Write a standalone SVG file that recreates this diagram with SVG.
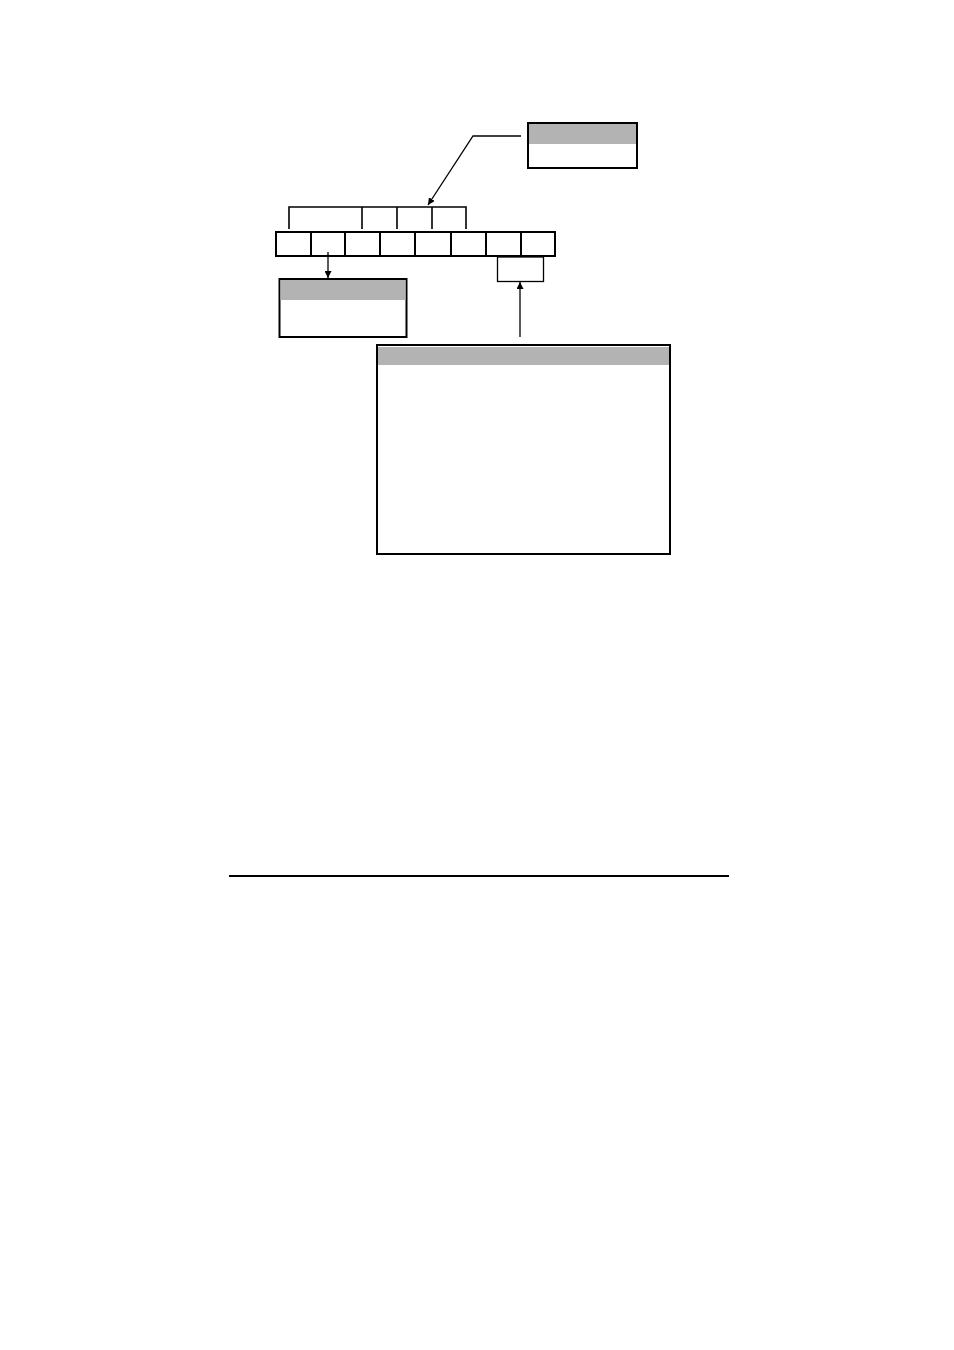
<svg xmlns="http://www.w3.org/2000/svg" width="954" height="1350" viewBox="0 0 954 1350">
<style>
.box{fill:#ffffff;stroke:#000;stroke-width:2}
.band{fill:#b3b3b3;stroke:none}
.cell{fill:#ffffff;stroke:#000;stroke-width:2}
.ln{fill:none;stroke:#000;stroke-width:1.3}
.br{fill:none;stroke:#000;stroke-width:1.6}
</style>
<defs>
<marker id="ah" viewBox="0 0 10 10" refX="10" refY="5" markerWidth="7" markerHeight="7" markerUnits="userSpaceOnUse" orient="auto">
<path d="M0,0 L10,5 L0,10 z" fill="#000"/>
</marker>
</defs>
<rect width="954" height="1350" fill="#fff"/>
<g id="topBox">
<rect class="box" x="528" y="123" width="109" height="45"/>
<rect class="band" x="529" y="124" width="107" height="20"/>
</g>
<g id="leftBox">
<rect class="box" x="279.5" y="279" width="127" height="58"/>
<rect class="band" x="280.5" y="280" width="125" height="20"/>
</g>
<g id="bigBox">
<rect class="box" x="377" y="345" width="293" height="209"/>
<rect class="band" x="378" y="347" width="291" height="18"/>
</g>
<g id="cells">
<rect class="cell" x="276" y="232" width="35" height="24"/>
<rect class="cell" x="311" y="232" width="34" height="24"/>
<rect class="cell" x="345" y="232" width="35" height="24"/>
<rect class="cell" x="380" y="232" width="35" height="24"/>
<rect class="cell" x="415" y="232" width="36" height="24"/>
<rect class="cell" x="451" y="232" width="35" height="24"/>
<rect class="cell" x="486" y="232" width="35" height="24"/>
<rect class="cell" x="521" y="232" width="34" height="24"/>
</g>
<g id="subCell">
<rect x="497.5" y="257" width="46" height="24.5" fill="#fff" stroke="#000" stroke-width="1.3"/>
</g>
<g id="bracket">
<path class="br" d="M289,229 V207 H466 V229 M362,207 V229 M397,207 V229 M432,207 V229"/>
</g>
<g id="connectors">
<path class="ln" d="M521,136 H473 L428,205" marker-end="url(#ah)"/>
<path class="ln" d="M328,252 V278" marker-end="url(#ah)"/>
<path class="ln" d="M520,337 V282" marker-end="url(#ah)"/>
</g>
<line x1="229" y1="876" x2="729" y2="876" stroke="#000" stroke-width="2"/>
</svg>
